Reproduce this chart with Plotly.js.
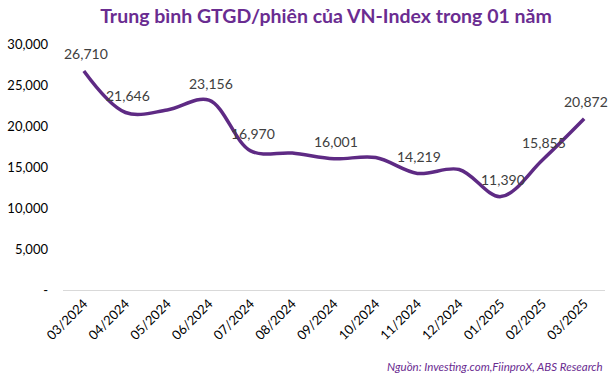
<!DOCTYPE html>
<html>
<head>
<meta charset="utf-8">
<script src="https://cdn.plot.ly/plotly-3.0.1.min.js"></script>
<style>html,body{margin:0;padding:0;background:#fff;}#chart{width:615px;height:384px;}</style>
</head>
<body>
<div id="chart"></div>
<script>
const months = ["03/2024","04/2024","05/2024","06/2024","07/2024","08/2024","09/2024","10/2024","11/2024","12/2024","01/2025","02/2025","03/2025"];
const values = [26710, 21646, 21950, 23156, 16970, 16700, 16001, 16150, 14219, 14700, 11390, 15855, 20872];
const labelShown = [true, true, false, true, true, false, true, false, true, false, true, true, true];
const yTickVals = [0, 5000, 10000, 15000, 20000, 25000, 30000];
const yTickText = ["-", "5,000", "10,000", "15,000", "20,000", "25,000", "30,000"];

const annotations = [];
months.forEach((m, i) => {
  if (!labelShown[i]) return;
  annotations.push({
    x: m, y: values[i], xref: 'x', yref: 'y',
    text: values[i].toLocaleString('en-US'),
    showarrow: false, yshift: 17, xshift: 2,
    font: {family: 'Lato, sans-serif', size: 14, color: '#404040'}
  });
});
annotations.push({
  xref: 'paper', yref: 'paper', x: 1, y: -0.31, xanchor: 'right', yanchor: 'middle',
  showarrow: false,
  text: '<i>Nguồn: Investing.com,FiinproX, ABS Research</i>',
  font: {family: 'Lato, sans-serif', size: 11.5, color: '#6A2C91'}
});

Plotly.newPlot('chart', [{
  x: months, y: values, type: 'scatter', mode: 'lines',
  line: {color: '#5E2A84', width: 3.5, shape: 'spline', smoothing: 1},
  hoverinfo: 'skip'
}], {
  width: 615, height: 384,
  margin: {l: 63, r: 10, t: 44, b: 94},
  paper_bgcolor: '#fff', plot_bgcolor: '#fff',
  showlegend: false,
  title: {text: '<b>Trung bình GTGD/phiên của VN-Index trong 01 năm</b>', x: 0.53, xanchor: 'center', y: 0.958, yanchor: 'middle',
    font: {family: 'Lato, sans-serif', size: 19.5, color: '#6A2C91'}},
  xaxis: {type: 'category', range: [-0.5, 12.5], tickangle: -45, showgrid: false, zeroline: false,
    showline: true, linecolor: '#D9D9D9', linewidth: 1, ticks: '',
    tickfont: {family: 'Lato, sans-serif', size: 13, color: '#000'}},
  yaxis: {range: [0, 30000], tickvals: yTickVals, ticktext: yTickText, showgrid: false, zeroline: false,
    showline: false, ticks: '', ticklabelstandoff: 14,
    tickfont: {family: 'Lato, sans-serif', size: 13, color: '#000'}},
  annotations: annotations
}, {displayModeBar: false, staticPlot: true});
</script>
</body>
</html>
